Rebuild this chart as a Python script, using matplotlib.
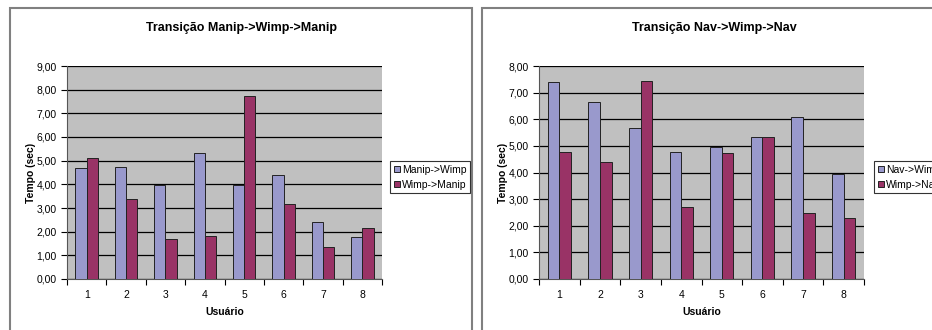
import matplotlib.pyplot as plt
import numpy as np
from matplotlib.patches import Rectangle
from matplotlib.ticker import FuncFormatter

users = ["1", "2", "3", "4", "5", "6", "7", "8"]

manip_wimp = [4.67, 4.73, 3.98, 5.34, 3.98, 4.38, 2.41, 1.78]
wimp_manip = [5.13, 3.38, 1.71, 1.82, 7.73, 3.17, 1.37, 2.16]

nav_wimp = [7.39, 6.65, 5.69, 4.77, 4.97, 5.35, 6.07, 3.94]
wimp_nav = [4.77, 4.39, 7.43, 2.72, 4.75, 5.35, 2.48, 2.29]

plt.rcParams["font.family"] = ["Liberation Sans", "DejaVu Sans"]

W, H = 932, 330
fig = plt.figure(figsize=(W / 100, H / 100), dpi=100)
fig.patch.set_facecolor("white")

BLUE = "#9999CC"
PURPLE = "#993366"


def px(x0, y0, x1, y1):
    # pixel box -> figure fraction [left, bottom, width, height]
    return [x0 / W, 1 - y1 / H, (x1 - x0) / W, (y1 - y0) / H]


def comma_fmt(v, pos):
    return f"{v:.2f}".replace(".", ",")


def draw_chart(box, frame, title, title_x, ymax, s1, s2, names, legend_box):
    fx0, fx1 = frame
    fig.add_artist(Rectangle((fx0 / W, -0.2), (fx1 - fx0) / W, 1.2 - 8 / H,
                             transform=fig.transFigure, fill=False,
                             edgecolor="#808080", linewidth=1.5))
    ax = fig.add_axes(px(*box))
    ax.set_facecolor("#C0C0C0")
    x = np.arange(1, len(users) + 1)
    w = 0.286
    b1 = ax.bar(x - w / 2, s1, w, color=BLUE, edgecolor="#222222", linewidth=0.7,
                label=names[0], zorder=3)
    b2 = ax.bar(x + w / 2, s2, w, color=PURPLE, edgecolor="#222222", linewidth=0.7,
                label=names[1], zorder=3)
    ax.set_xlim(0.5, len(users) + 0.5)
    ax.set_ylim(0, ymax)
    ax.set_yticks(np.arange(0, ymax + 0.5, 1))
    ax.yaxis.set_major_formatter(FuncFormatter(comma_fmt))
    ax.set_xticks(np.arange(0.5, len(users) + 1, 1))
    ax.set_xticklabels([])
    ax.set_xticks(x, minor=True)
    ax.set_xticklabels(users, minor=True)
    ax.tick_params(axis="x", which="minor", length=0, labelsize=7.5, pad=8)
    ax.tick_params(axis="x", which="major", length=4, width=0.8, direction="out")
    ax.tick_params(axis="y", length=4, width=0.8, direction="out", labelsize=7.5)
    ax.grid(axis="y", color="black", linewidth=0.9, zorder=1)
    ax.set_axisbelow(True)
    for side in ["top", "right"]:
        ax.spines[side].set_visible(False)
    for side in ["left", "bottom"]:
        ax.spines[side].set_color("#555555")
        ax.spines[side].set_linewidth(0.8)
    ax.set_ylabel("Tempo (sec)", fontsize=7.5, fontweight="bold", labelpad=0)
    ax.set_xlabel("Usuário", fontsize=7.5, fontweight="bold", labelpad=5)
    fig.text(title_x / W, 1 - 28 / H, title, ha="center", va="center",
             fontsize=9, fontweight="bold")
    lx0, ly0, lx1, ly1 = legend_box
    leg = fig.legend(handles=[b1, b2], loc="upper left",
                     bbox_to_anchor=(lx0 / W, 1 - ly0 / H),
                     bbox_transform=fig.transFigure, frameon=True, fancybox=False,
                     fontsize=7.5, handlelength=0.6, handleheight=0.6,
                     handletextpad=0.2, borderpad=0.35, labelspacing=0.5,
                     borderaxespad=0)
    leg.get_frame().set_edgecolor("black")
    leg.get_frame().set_linewidth(0.8)
    return ax


draw_chart((67, 66, 382, 279), (10, 472), "Transição Manip->Wimp->Manip", 241,
           9, manip_wimp, wimp_manip, ["Manip->Wimp", "Wimp->Manip"],
           (390, 161, 467, 192))
draw_chart((539, 66, 864, 279), (482, 1000), "Transição Nav->Wimp->Nav", 714,
           8, nav_wimp, wimp_nav, ["Nav->Wimp", "Wimp->Nav"],
           (874, 161, 950, 192))

fig.savefig("out.png", dpi=100)
